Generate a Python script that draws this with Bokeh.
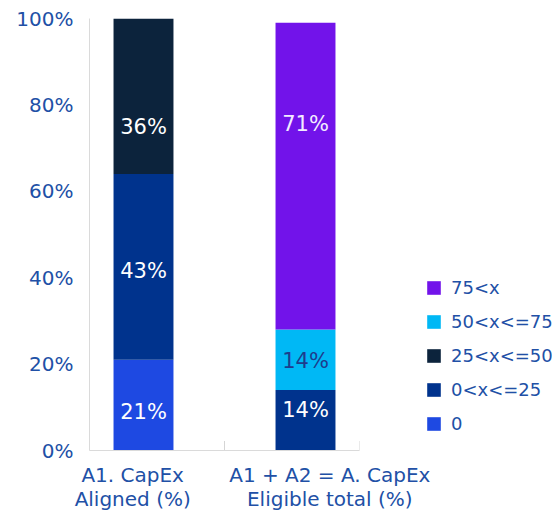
from bokeh.plotting import figure
from bokeh.models import ColumnDataSource, Range1d, FixedTicker, Legend, LegendItem
from bokeh.embed import file_html
from bokeh.resources import INLINE
from bokeh.core.properties import value

# ---- data ----
category_labels = ["A1. CapEx\nAligned (%)", "A1 + A2 = A. CapEx\nEligible total (%)"]
bar_x = [0.4, 1.6]            # bar centres on the numeric x scale
label_x = [0.32, 1.78]        # category label positions
boundaries = [0, 1, 2]        # category boundaries (small axis ticks)
series = ["0", "0<x<=25", "25<x<=50", "50<x<=75", "75<x"]
vals_0 = [21, 0]
vals_0_25 = [43, 14]
vals_25_50 = [36, 0]
vals_50_75 = [0, 14]
vals_75 = [0, 71]
# where each data label sits, per bar, per non-zero segment
label_y = [[9, 41.5, 75], [9.3, 20.8, 75.5]]
colors = ["#1E49E2", "#00338D", "#0C233C", "#00B8F5", "#7213EA"]
label_colors = ["#FFFFFF", "#FFFFFF", "#FFFFFF", "#1E3C8C", "#F2ECFF"]
y_ticks = [0, 20, 40, 60, 80, 100]

FONT = "DejaVu Sans"
TXT = "#2150A6"

data = {"x": bar_x}
for s, v in zip(series, [vals_0, vals_0_25, vals_25_50, vals_50_75, vals_75]):
    data[s] = v
src = ColumnDataSource(data)

p = figure(frame_width=270, frame_height=432, output_backend="svg", toolbar_location=None,
           x_range=Range1d(0, 2), y_range=Range1d(0, 100),
           min_border_left=89, min_border_top=18, min_border_bottom=56, min_border_right=191)
p.outline_line_color = None
p.grid.grid_line_color = None
p.background_fill_color = "white"
p.border_fill_color = "white"

renderers = p.vbar_stack(series, x="x", width=0.444, source=src, color=colors, line_color=None)

# segment labels
lx, ly, lt, lc = [], [], [], []
cols = [vals_0, vals_0_25, vals_25_50, vals_50_75, vals_75]
for i in range(len(bar_x)):
    k = 0
    for j, c in enumerate(cols):
        v = c[i]
        if v > 0:
            lx.append(bar_x[i]); ly.append(label_y[i][k]); lt.append(f"{v}%"); lc.append(label_colors[j])
            k += 1
p.text(x=lx, y=ly, text=lt, text_color=lc, text_align="center", text_baseline="middle",
       text_font=value(FONT), text_font_size="21px", text_font_style="normal")

# small ticks at category boundaries
p.segment(x0=boundaries, x1=boundaries, y0=[0] * 3, y1=[2.2] * 3, line_color="#D5D5D5", line_width=1)

# axes
p.yaxis.ticker = FixedTicker(ticks=y_ticks)
p.yaxis.major_label_overrides = {t: f"{t}%" for t in y_ticks}
p.yaxis.major_tick_line_color = None
p.yaxis.minor_tick_line_color = None
p.yaxis.axis_line_color = "#DADADA"
p.yaxis.major_label_text_font = FONT
p.yaxis.major_label_text_font_size = "20px"
p.yaxis.major_label_text_color = TXT
p.yaxis.major_label_standoff = 10

p.xaxis.ticker = FixedTicker(ticks=label_x)
p.xaxis.major_label_overrides = {x: l for x, l in zip(label_x, category_labels)}
p.xaxis.major_tick_line_color = None
p.xaxis.minor_tick_line_color = None
p.xaxis.axis_line_color = "#DADADA"
p.xaxis.major_label_text_font = FONT
p.xaxis.major_label_text_font_size = "20px"
p.xaxis.major_label_text_color = TXT
p.xaxis.major_label_text_line_height = 1.0
p.xaxis.major_label_standoff = 6

items = [LegendItem(label=s, renderers=[r]) for s, r in zip(series, renderers)][::-1]
legend = Legend(items=items, location=(66, 16), orientation="vertical",
                glyph_width=17, glyph_height=17, spacing=13, label_standoff=9,
                label_text_font=FONT, label_text_font_size="18px", label_text_color=TXT,
                padding=0, margin=0, border_line_color=None, background_fill_alpha=0)
p.add_layout(legend, "right")

open("out.html", "w").write(file_html(p, INLINE))
